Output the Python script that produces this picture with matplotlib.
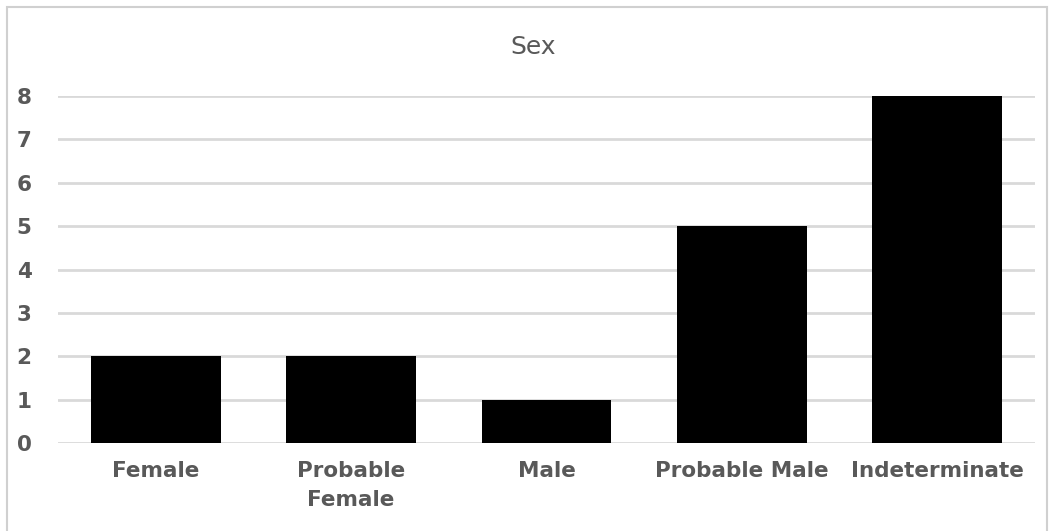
import matplotlib.pyplot as plt
from matplotlib.patches import Rectangle

categories = ['Female', 'Probable\nFemale', 'Male', 'Probable Male', 'Indeterminate']
counts = [2, 2, 1, 5, 8]
y_ticks = [0, 1, 2, 3, 4, 5, 6, 7, 8]

text_color = '#595959'
grid_color = '#d9d9d9'

fig = plt.figure(figsize=(10.5, 5.31), dpi=100)
ax = fig.add_axes([0.0552, 0.1657, 0.9305, 0.6535])

# light frame round the chart (bottom edge runs off the image)
fig.patches.append(Rectangle((7 / 1050, -0.02), 1040 / 1050, 1.02 - 7 / 531,
                             transform=fig.transFigure, fill=False,
                             edgecolor='#d0d0d0', linewidth=1.5))

ax.bar(range(len(categories)), counts, width=0.665, color='black', zorder=3)

ax.set_xlim(-0.5, len(categories) - 0.5)
ax.set_ylim(0, 8)
ax.set_yticks(y_ticks)
ax.yaxis.grid(True, color=grid_color, linewidth=2, zorder=0)
ax.set_axisbelow(True)

for side in ['top', 'right', 'left', 'bottom']:
    ax.spines[side].set_visible(False)

ax.set_xticks(range(len(categories)))
ax.set_xticklabels(categories, linespacing=1.55)
ax.tick_params(axis='both', length=0, labelcolor=text_color, labelsize=15.5)
ax.tick_params(axis='x', pad=13)
ax.tick_params(axis='y', pad=19)
for lbl in ax.get_xticklabels() + ax.get_yticklabels():
    lbl.set_fontweight('bold')
    lbl.set_family('DejaVu Sans')

fig.text(0.508, 0.911, 'Sex', ha='center', va='center', fontsize=18,
         color=text_color, family='DejaVu Sans')

plt.savefig('out.png', dpi=100)
